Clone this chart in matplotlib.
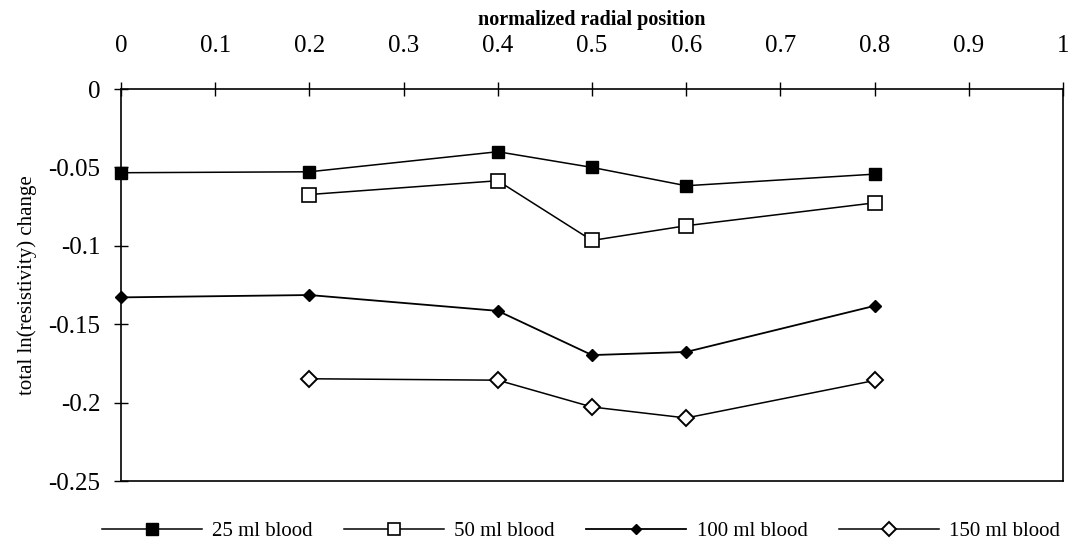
import matplotlib
matplotlib.use("Agg")
import matplotlib.pyplot as plt

positions_25 = [0.0, 0.2, 0.4, 0.5, 0.6, 0.8]
blood_25 = [-0.0534, -0.0528, -0.040, -0.050, -0.0617, -0.0543]
positions_50 = [0.2, 0.4, 0.5, 0.6, 0.8]
blood_50 = [-0.0673, -0.0585, -0.0966, -0.0872, -0.0726]
positions_100 = [0.0, 0.2, 0.4, 0.5, 0.6, 0.8]
blood_100 = [-0.1329, -0.1314, -0.1415, -0.1697, -0.1677, -0.1383]
positions_150 = [0.2, 0.4, 0.5, 0.6, 0.8]
blood_150 = [-0.1848, -0.1857, -0.2028, -0.2098, -0.1859]

x_ticks = [0, 0.1, 0.2, 0.3, 0.4, 0.5, 0.6, 0.7, 0.8, 0.9, 1]
x_ticklabels = ["0", "0.1", "0.2", "0.3", "0.4", "0.5", "0.6", "0.7", "0.8", "0.9", "1"]
y_ticks = [0, -0.05, -0.1, -0.15, -0.2, -0.25]
y_ticklabels = ["0", "-0.05", "-0.1", "-0.15", "-0.2", "-0.25"]

plt.rcParams['font.family'] = ['Liberation Serif', 'DejaVu Serif']

fig = plt.figure(figsize=(10.84, 5.48), dpi=100)
ax = fig.add_axes([121/1084, 1-481/548, (1063-121)/1084, (481-89)/548])

ax.plot(positions_25, blood_25, color='black', lw=1.1, marker='s', ms=9,
        mfc='black', mec='black', label='25 ml blood', clip_on=False, zorder=3)
ax.plot(positions_50, blood_50, color='black', lw=1.1, marker='s', ms=10,
        mfc='white', mec='black', mew=1.2, label='50 ml blood', clip_on=False, zorder=3)
ax.plot(positions_100, blood_100, color='black', lw=1.3, marker='D', ms=6,
        mfc='black', mec='black', label='100 ml blood', clip_on=False, zorder=3)
ax.plot(positions_150, blood_150, color='black', lw=1.1, marker='D', ms=8,
        mfc='white', mec='black', mew=1.4, label='150 ml blood', clip_on=False, zorder=3)

ax.set_xlim(0, 1)
ax.set_ylim(-0.25, 0)
ax.xaxis.tick_top()
ax.xaxis.set_label_position('top')
ax.set_xticks(x_ticks)
ax.set_xticklabels(x_ticklabels, fontsize=18)
ax.set_yticks(y_ticks)
ax.set_yticklabels(y_ticklabels, fontsize=18)
ax.tick_params(axis='x', direction='inout', length=10, width=1, pad=18)
ax.tick_params(axis='y', direction='inout', length=10, width=1, pad=10)
for s in ax.spines.values():
    s.set_linewidth(1.2)

ax.set_xlabel('normalized radial position', fontsize=14.5, fontweight='bold', labelpad=7)
ax.set_ylabel('total ln(resistivity) change', fontsize=15, labelpad=8)

fig.legend(loc='center', bbox_to_anchor=(0.536, 1-531/548), ncol=4, frameon=False,
           fontsize=15, handlelength=4.8, handletextpad=0.5, columnspacing=1.5,
           markerscale=0.9)

fig.savefig('out.png', dpi=100)
